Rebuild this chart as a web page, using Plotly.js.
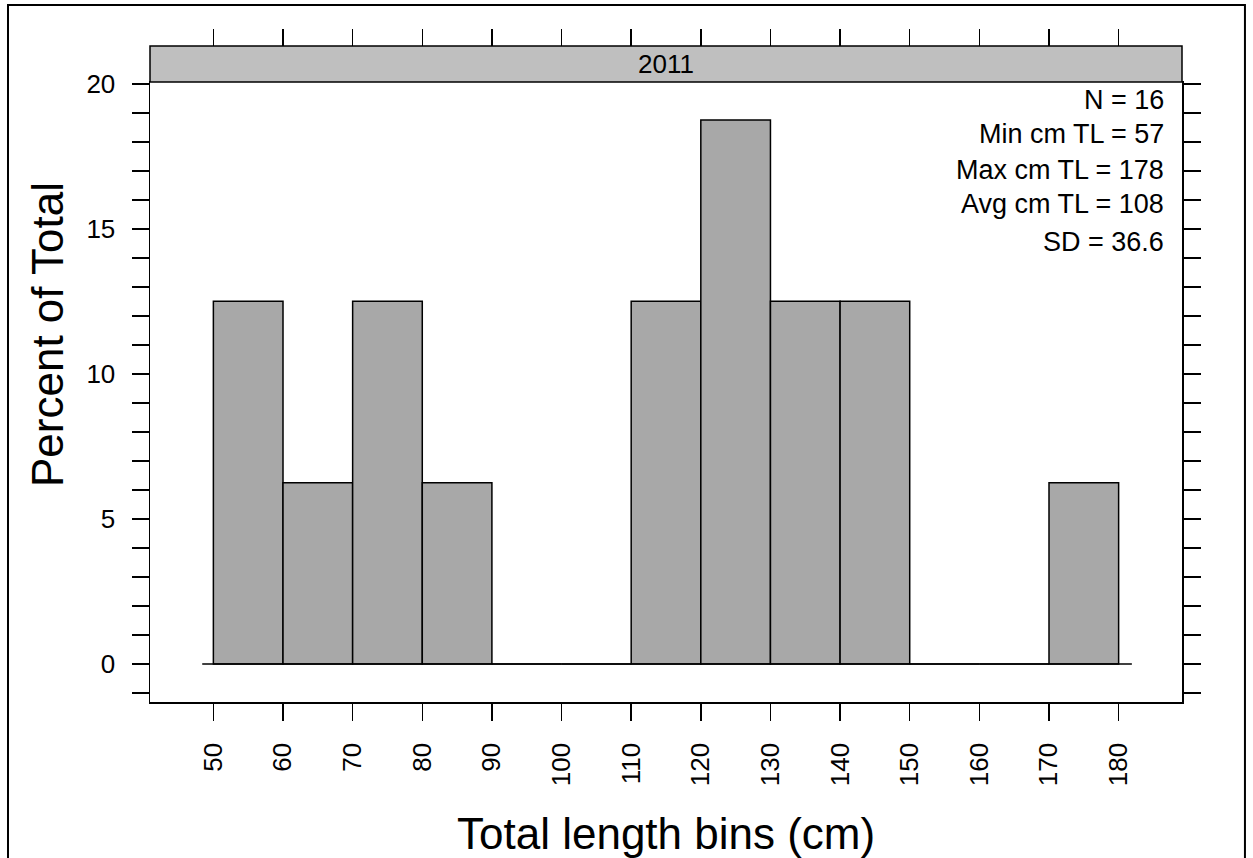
<!DOCTYPE html>
<html>
<head>
<meta charset="utf-8">
<script src="https://cdn.plot.ly/plotly-3.0.1.min.js"></script>
<style>
  html, body { margin: 0; padding: 0; background: #ffffff; }
  #chart { width: 1253px; height: 858px; }
</style>
</head>
<body>
<div id="chart"></div>
<script>
// ---- data ----
var binMid = [55, 65, 75, 85, 95, 105, 115, 125, 135, 145, 155, 165, 175];
var binWidth = [10, 10, 10, 10, 10, 10, 10, 10, 10, 10, 10, 10, 10];
var percentTotal = [12.5, 6.25, 12.5, 6.25, 0, 0, 12.5, 18.75, 12.5, 12.5, 0, 0, 6.25];
var xTickVals = [50, 60, 70, 80, 90, 100, 110, 120, 130, 140, 150, 160, 170, 180];
var xTickText = ['50', '60', '70', '80', '90', '100', '110', '120', '130', '140', '150', '160', '170', '180'];
var yTickVals = [0, 5, 10, 15, 20];
var yTickText = ['0', '5', '10', '15', '20'];
var xRange = [40.9, 189.1];
var yRange = [-1.3125, 20.0625];
var zeroLineX = [48.4, 181.9];
var panelTitle = '2011';
var statLabels = ['N', 'Min cm TL', 'Max cm TL', 'Avg cm TL', 'SD'];
var statValues = ['16', '57', '178', '108', '36.6'];
var xTitle = 'Total length bins (cm)';
var yTitle = 'Percent of Total';

var FONT = 'Liberation Sans, Arial, Helvetica, sans-serif';

var traces = [
  {
    type: 'bar',
    x: binMid,
    y: percentTotal,
    width: binWidth,
    marker: { color: '#A8A8A8', line: { color: '#000000', width: 1.5 } },
    hoverinfo: 'x+y',
    showlegend: false
  },
  {
    type: 'scatter',
    mode: 'markers',
    x: binMid,
    y: percentTotal,
    xaxis: 'x2',
    yaxis: 'y',
    marker: { opacity: 0, size: 1 },
    hoverinfo: 'skip',
    showlegend: false
  }
];

var statPaperY = [0.9177, 0.8651, 0.8110, 0.7591, 0.7012];
var annotations = [];
for (var i = 0; i < statLabels.length; i++) {
  annotations.push({
    xref: 'paper', yref: 'paper',
    x: 0.9845, y: statPaperY[i],
    xanchor: 'right', yanchor: 'middle',
    text: statLabels[i] + ' = ' + statValues[i],
    showarrow: false,
    font: { family: FONT, size: 27, color: '#000000' }
  });
}
annotations.push({
  xref: 'x domain', yref: 'paper',
  x: 0.5, y: 0.9726,
  xanchor: 'center', yanchor: 'middle',
  text: panelTitle, showarrow: false,
  font: { family: FONT, size: 26, color: '#000000' }
});
annotations.push({
  xref: 'x domain', yref: 'paper',
  x: 0.5, y: -0.1997,
  xanchor: 'center', yanchor: 'middle',
  text: xTitle, showarrow: false,
  font: { family: FONT, size: 44, color: '#000000' }
});
annotations.push({
  xref: 'paper', yref: 'paper',
  x: -0.0988, y: 0.5595,
  xanchor: 'center', yanchor: 'middle',
  textangle: -90,
  text: yTitle, showarrow: false,
  font: { family: FONT, size: 44, color: '#000000' }
});

var layout = {
  width: 1253,
  height: 858,
  margin: { l: 150, r: 71, t: 46, b: 156, pad: 0 },
  paper_bgcolor: '#ffffff',
  plot_bgcolor: '#ffffff',
  showlegend: false,
  font: { family: FONT, color: '#000000' },
  bargap: 0,
  xaxis: {
    range: xRange,
    tickmode: 'array',
    tickvals: xTickVals,
    ticktext: xTickText,
    tickangle: -90,
    ticks: 'outside',
    ticklen: 17,
    tickwidth: 1.5,
    tickcolor: '#000000',
    ticklabelstandoff: 12,
    tickfont: { family: FONT, size: 26, color: '#000000' },
    showline: true,
    linecolor: '#000000',
    linewidth: 1.5,
    mirror: true,
    showgrid: false,
    zeroline: false,
    anchor: 'y'
  },
  xaxis2: {
    range: xRange,
    overlaying: 'x',
    side: 'top',
    anchor: 'free',
    position: 1,
    tickmode: 'array',
    tickvals: xTickVals,
    ticks: 'outside',
    ticklen: 17,
    tickwidth: 1.5,
    tickcolor: '#000000',
    showticklabels: false,
    showline: false,
    showgrid: false,
    zeroline: false
  },
  yaxis: {
    domain: [0, 0.94512],
    range: yRange,
    tickmode: 'array',
    tickvals: yTickVals,
    ticktext: yTickText,
    ticks: 'outside',
    ticklen: 17,
    tickwidth: 1.5,
    tickcolor: '#000000',
    ticklabelstandoff: 11,
    tickfont: { family: FONT, size: 26, color: '#000000' },
    minor: { dtick: 1, tick0: 0, ticks: 'outside', ticklen: 11, tickwidth: 1.5, tickcolor: '#000000', showgrid: false },
    showline: true,
    linecolor: '#000000',
    linewidth: 1.5,
    mirror: 'allticks',
    showgrid: false,
    zeroline: false
  },
  shapes: [
    {
      type: 'rect', xref: 'x domain', yref: 'paper',
      x0: 0, x1: 1, y0: 0.94512, y1: 1,
      fillcolor: '#BFBFBF',
      line: { color: '#000000', width: 1.5 },
      layer: 'above'
    },
    {
      type: 'line', xref: 'x', yref: 'y',
      x0: zeroLineX[0], x1: zeroLineX[1], y0: 0, y1: 0,
      line: { color: '#000000', width: 1.5 },
      layer: 'above'
    },
    {
      type: 'rect', xref: 'paper', yref: 'paper',
      x0: -0.1376, x1: 1.0610, y0: -0.30, y1: 1.0625,
      fillcolor: 'rgba(0,0,0,0)',
      line: { color: '#000000', width: 2 },
      layer: 'above'
    }
  ],
  annotations: annotations
};

Plotly.newPlot('chart', traces, layout, { displayModeBar: false, staticPlot: true });
</script>
</body>
</html>
